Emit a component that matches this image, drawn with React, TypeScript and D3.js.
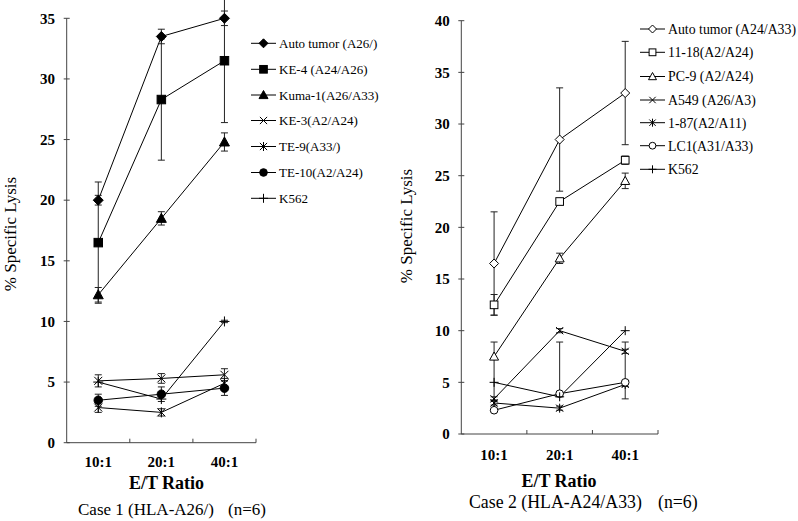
import React from 'react';
import * as d3 from 'd3';

const ratios = ['10:1', '20:1', '40:1'];

const leftNames = ['Auto tumor (A26/)', 'KE-4 (A24/A26)', 'Kuma-1(A26/A33)', 'KE-3(A2/A24)', 'TE-9(A33/)', 'TE-10(A2/A24)', 'K562'];
const leftMarkers = ['diamond', 'square', 'triangle', 'x', 'asterisk', 'circle', 'plus'];
const leftValues = [
  [20, 33.5, 35],
  [16.5, 28.3, 31.5],
  [12.2, 18.5, 24.8],
  [5.1, 5.3, 5.6],
  [2.9, 2.5, 4.9],
  [3.5, 4.0, 4.5],
  [5.0, 3.6, 10.0],
];
const leftErrHi = [
  [0.4, 0.6, 0.6],
  [5, 5, 5.1],
  [0.6, 0.55, 0.75],
  [0.5, 0.4, 0.5],
  [0.4, 0.3, 0.4],
  [0.5, 0.6, 0.6],
  [0, 0, 0.1],
];
const leftErrLo = leftErrHi;
const leftYTicks = [0, 5, 10, 15, 20, 25, 30, 35];

const rightNames = ['Auto tumor (A24/A33)', '11-18(A2/A24)', 'PC-9 (A2/A24)', 'A549 (A26/A3)', '1-87(A2/A11)', 'LC1(A31/A33)', 'K562'];
const rightMarkers = ['diamond', 'square', 'triangle', 'x', 'asterisk', 'circle', 'plus'];
const rightValues = [
  [16.5, 28.5, 33],
  [12.5, 22.5, 26.5],
  [7.5, 17, 24.5],
  [3.4, 10, 8],
  [3.0, 2.5, 4.8],
  [2.3, 3.9, 5.0],
  [5, 3.6, 10],
];
const rightErrHi = [
  [5, 5, 5],
  [1, 0.3, 0.4],
  [1.4, 0.5, 0.75],
  [0.2, 0.2, 0.2],
  [0.2, 0.2, 0.2],
  [0, 5, 3.9],
  [0, 0, 0],
];
const rightErrLo = [
  [5, 5, 5],
  [1, 0.3, 0.4],
  [4.2, 0.5, 0.75],
  [0.2, 0.2, 0.2],
  [0.2, 0.2, 0.2],
  [0, 0.3, 1.6],
  [0, 0, 0],
];
const rightYTicks = [0, 5, 10, 15, 20, 25, 30, 35, 40];

const FONT = '"Liberation Serif", "Times New Roman", serif';

function Marker({ type, x, y, filled, s }: { type: string; x: number; y: number; filled: boolean; s: number }) {
  const fill = filled ? '#000' : '#fff';
  const sw = 1;
  const h = s / 2;
  switch (type) {
    case 'diamond':
      return <path d={`M${x},${y - h}L${x + h},${y}L${x},${y + h}L${x - h},${y}Z`} fill={fill} stroke="#000" strokeWidth={sw} />;
    case 'square': {
      const q = h * 0.85;
      return <rect x={x - q} y={y - q} width={2 * q} height={2 * q} fill={fill} stroke="#000" strokeWidth={sw} />;
    }
    case 'triangle':
      return <path d={`M${x},${y - h}L${x + h},${y + h * 0.8}L${x - h},${y + h * 0.8}Z`} fill={fill} stroke="#000" strokeWidth={sw} />;
    case 'circle':
      return <circle cx={x} cy={y} r={h * 0.85} fill={fill} stroke="#000" strokeWidth={sw} />;
    case 'x': {
      const q = h * 0.8;
      return <path d={`M${x - q},${y - q}L${x + q},${y + q}M${x - q},${y + q}L${x + q},${y - q}`} stroke="#000" strokeWidth={sw} fill="none" />;
    }
    case 'asterisk': {
      const q = h * 0.8;
      return <path d={`M${x - q},${y - q}L${x + q},${y + q}M${x - q},${y + q}L${x + q},${y - q}M${x},${y - h}L${x},${y + h}`} stroke="#000" strokeWidth={sw} fill="none" />;
    }
    case 'plus':
      return <path d={`M${x - h},${y}L${x + h},${y}M${x},${y - h}L${x},${y + h}`} stroke="#000" strokeWidth={sw} fill="none" />;
    default:
      return null;
  }
}

type PanelProps = {
  names: string[];
  markers: string[];
  values: number[][];
  errHi: number[][];
  errLo: number[][];
  yTicks: number[];
  yMax: number;
  filled: boolean;
  x0: number; x1: number; yBottom: number; yTop: number;
  yTickLabelX: number;
  xTickBaseline: number;
  xTitleX: number; xTitleY: number;
  yTitleX: number; yTitleY: number;
  caption: string; captionX: number; captionY: number; captionSize: number;
  nX: number;
  legendLineX0: number; legendLineX1: number; legendTextX: number;
  legendY: number[]; legendSize: number;
  markerSize: number;
};

function Panel(p: PanelProps) {
  const x = d3.scaleBand<string>().domain(ratios).range([p.x0, p.x1]).padding(0);
  const cx = (c: string) => (x(c) as number) + x.bandwidth() / 2;
  const y = d3.scaleLinear().domain([0, p.yMax]).range([p.yBottom, p.yTop]);
  const line = d3.line<number>().x((_, i) => cx(ratios[i])).y((v) => y(v));
  const cap = 3.5;
  const stroke = '#222';
  const legMid = (p.legendLineX0 + p.legendLineX1) / 2;
  return (
    <g>
      {/* axes */}
      <line x1={p.x0} x2={p.x0} y1={p.yBottom} y2={p.yTop} stroke="#444" strokeWidth={1} />
      <line x1={p.x0} x2={p.x1} y1={p.yBottom} y2={p.yBottom} stroke="#444" strokeWidth={1} />
      {p.yTicks.map((t) => (
        <g key={'yt' + t}>
          <line x1={p.x0 - 3} x2={p.x0 + 3} y1={y(t)} y2={y(t)} stroke="#444" strokeWidth={1} />
          <text x={p.yTickLabelX} y={y(t)} dy="0.35em" textAnchor="end" fontFamily={FONT} fontWeight="bold" fontSize={15}>{t}</text>
        </g>
      ))}
      {ratios.map((r, i) => (
        <g key={'xt' + r}>
          <line x1={(x(r) as number) + x.bandwidth()} x2={(x(r) as number) + x.bandwidth()} y1={p.yBottom} y2={p.yBottom - 4} stroke="#444" strokeWidth={1} />
          <text x={cx(r)} y={p.xTickBaseline} textAnchor="middle" fontFamily={FONT} fontWeight="bold" fontSize={15}>{r}</text>
        </g>
      ))}
      <text x={p.xTitleX} y={p.xTitleY} textAnchor="middle" fontFamily={FONT} fontWeight="bold" fontSize={18}>E/T Ratio</text>
      <text transform={`translate(${p.yTitleX},${p.yTitleY}) rotate(-90)`} textAnchor="middle" dy="0.35em" fontFamily={FONT} fontSize={17}>% Specific Lysis</text>
      <text x={p.captionX} y={p.captionY} fontFamily={FONT} fontSize={p.captionSize}>{p.caption}</text>
      <text x={p.nX} y={p.captionY} fontFamily={FONT} fontSize={p.captionSize}>(n=6)</text>
      {/* series lines */}
      {p.values.map((vals, si) => (
        <path key={'l' + si} d={line(vals) as string} fill="none" stroke="#000" strokeWidth={1} />
      ))}
      {/* error bars */}
      {p.values.map((vals, si) =>
        vals.map((v, i) => {
          const hi = p.errHi[si][i];
          const lo = p.errLo[si][i];
          const xx = cx(ratios[i]);
          const out = [] as any[];
          if (hi > 0) {
            out.push(<line key={'eh' + i} x1={xx} x2={xx} y1={y(v)} y2={y(v + hi)} stroke={stroke} strokeWidth={1} />);
            out.push(<line key={'ehc' + i} x1={xx - cap} x2={xx + cap} y1={y(v + hi)} y2={y(v + hi)} stroke={stroke} strokeWidth={1} />);
          }
          if (lo > 0) {
            out.push(<line key={'el' + i} x1={xx} x2={xx} y1={y(v)} y2={y(v - lo)} stroke={stroke} strokeWidth={1} />);
            out.push(<line key={'elc' + i} x1={xx - cap} x2={xx + cap} y1={y(v - lo)} y2={y(v - lo)} stroke={stroke} strokeWidth={1} />);
          }
          return <g key={'e' + si + '-' + i}>{out}</g>;
        })
      )}
      {/* markers */}
      {p.values.map((vals, si) =>
        vals.map((v, i) => (
          <Marker key={'m' + si + '-' + i} type={p.markers[si]} x={cx(ratios[i])} y={y(v)} filled={p.filled} s={p.markerSize} />
        ))
      )}
      {/* legend */}
      {p.names.map((n, i) => (
        <g key={'lg' + i}>
          <line x1={p.legendLineX0} x2={p.legendLineX1} y1={p.legendY[i]} y2={p.legendY[i]} stroke="#000" strokeWidth={1} />
          <Marker type={p.markers[i]} x={legMid} y={p.legendY[i]} filled={p.filled} s={p.markerSize - 1} />
          <text x={p.legendTextX} y={p.legendY[i]} dy="0.35em" fontFamily={FONT} fontSize={p.legendSize}>{n}</text>
        </g>
      ))}
    </g>
  );
}

export default function App() {
  return (
    <svg width={798} height={521} style={{ position: 'absolute', left: 0, top: 0, background: '#fff' }}>
      <rect x={0} y={0} width={798} height={521} fill="#fff" />
      <Panel
        names={leftNames} markers={leftMarkers} values={leftValues} errHi={leftErrHi} errLo={leftErrLo}
        yTicks={leftYTicks} yMax={35} filled={true}
        x0={66.7} x1={256} yBottom={442.7} yTop={18.3}
        yTickLabelX={55} xTickBaseline={466.5}
        xTitleX={166.5} xTitleY={489}
        yTitleX={10} yTitleY={234}
        caption="Case 1 (HLA-A26/)" captionX={78} captionY={515} captionSize={17} nX={228}
        legendLineX0={251} legendLineX1={276} legendTextX={279}
        legendY={[43.3, 69.3, 95, 120.5, 146.5, 172.5, 198.3]} legendSize={13}
        markerSize={10}
      />
      <Panel
        names={rightNames} markers={rightMarkers} values={rightValues} errHi={rightErrHi} errLo={rightErrLo}
        yTicks={rightYTicks} yMax={40} filled={false}
        x0={461.3} x1={658} yBottom={434} yTop={20.7}
        yTickLabelX={449.7} xTickBaseline={460}
        xTitleX={559} xTitleY={486.5}
        yTitleX={406} yTitleY={226}
        caption="Case 2 (HLA-A24/A33)" captionX={469} captionY={508} captionSize={17.8} nX={658}
        legendLineX0={640} legendLineX1={665} legendTextX={668}
        legendY={[29, 52.3, 76.5, 100, 122.7, 145.7, 169.3]} legendSize={13.8}
        markerSize={9}
      />
    </svg>
  );
}
